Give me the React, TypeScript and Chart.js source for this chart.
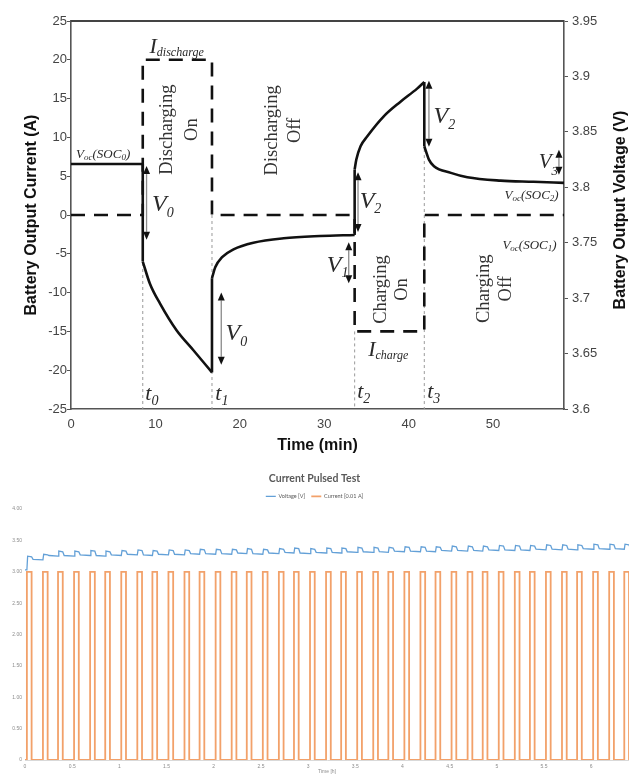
import React, { useEffect, useRef } from 'react';
import { Chart, registerables } from 'chart.js';

Chart.register(...registerables);

// ================= Top chart (schematic pulse test) =================
const currentTimeMin = [0, 8.5, 8.5, 16.7, 16.7, 33.6, 33.6, 41.85, 41.85, 58.4];
const currentAmps = [0, 0, 20, 20, 0, 0, -15, -15, 0, 0];

const voltageTimeMin = [0, 8.5, 8.5, 9.35, 10.55, 12.5, 14.5, 16.7, 16.7, 17.1, 17.9, 19.25, 21.6, 25.2, 29.5, 33.6, 33.6, 33.8, 34.3, 35.1, 37.05, 39.0, 41.0, 41.85, 41.85, 42.4, 43.0, 45.0, 46.95, 50.9, 54.8, 58.4];
const voltageVolts = [3.821, 3.821, 3.733, 3.713, 3.695, 3.671, 3.653, 3.633, 3.718, 3.728, 3.737, 3.744, 3.75, 3.754, 3.756, 3.757, 3.816, 3.825, 3.837, 3.846, 3.864, 3.877, 3.889, 3.895, 3.837, 3.825, 3.819, 3.813, 3.809, 3.806, 3.805, 3.804];

const timeRangeMin = [0, 58.4];
const currentRange = [-25, 25];
const voltageRange = [3.6, 3.95];

// ================= Bottom chart (Current Pulsed Test) =================
const pulseStartH = [0.02, 0.19, 0.35, 0.52, 0.69, 0.85, 1.02, 1.19, 1.35, 1.52, 1.69, 1.85, 2.02, 2.19, 2.35, 2.52, 2.69, 2.85, 3.02, 3.19, 3.35, 3.52, 3.69, 3.85, 4.02, 4.19, 4.35, 4.52, 4.69, 4.85, 5.02, 5.19, 5.35, 5.52, 5.69, 5.85, 6.02, 6.19, 6.35];
const pulseLengthH = 0.05;
const pulseCurrent = 3.0;
const voltBeforePulse = [3.03, 3.19, 3.25, 3.25, 3.26, 3.25, 3.26, 3.27, 3.26, 3.27, 3.27, 3.28, 3.28, 3.28, 3.29, 3.28, 3.29, 3.3, 3.29, 3.3, 3.3, 3.31, 3.31, 3.31, 3.32, 3.32, 3.32, 3.33, 3.33, 3.33, 3.34, 3.34, 3.34, 3.35, 3.35, 3.35, 3.36, 3.36, 3.36];
const voltDuringPulse = [3.25, 3.28, 3.33, 3.33, 3.34, 3.33, 3.34, 3.35, 3.34, 3.35, 3.35, 3.36, 3.36, 3.36, 3.37, 3.36, 3.37, 3.38, 3.37, 3.38, 3.38, 3.39, 3.39, 3.39, 3.4, 3.4, 3.4, 3.41, 3.41, 3.41, 3.42, 3.42, 3.42, 3.43, 3.43, 3.43, 3.44, 3.44, 3.44];
const pulsedTimeRangeH = [0, 6.4];
const pulsedValueRange = [0, 4];

const SANS = '"Liberation Sans", Arial, sans-serif';
const SERIF = '"Liberation Serif", "Times New Roman", serif';

type Part = [string, number, number];
// rich italic labels: anchor (time min, current A) = left/baseline
const richLabels: { t: number; v: number; parts: Part[] }[] = [
  { t: 9.3, v: 20.9, parts: [['I', 22, 0], ['discharge', 12, 3]] },
  { t: 0.6, v: 7.35, parts: [['V', 13, 0], ['oc', 9, 2], ['(SOC', 13, 0], ['0', 9, 2], [')', 13, 0]] },
  { t: 9.6, v: 0.5, parts: [['V', 24, 0], ['0', 14, 6]] },
  { t: 8.8, v: -23.8, parts: [['t', 22, 0], ['0', 14, 5]] },
  { t: 17.1, v: -23.8, parts: [['t', 22, 0], ['1', 14, 5]] },
  { t: 18.3, v: -16.1, parts: [['V', 24, 0], ['0', 14, 6]] },
  { t: 30.3, v: -7.35, parts: [['V', 24, 0], ['1', 14, 5]] },
  { t: 34.2, v: 0.9, parts: [['V', 24, 0], ['2', 14, 5]] },
  { t: 33.9, v: -23.6, parts: [['t', 22, 0], ['2', 14, 5]] },
  { t: 42.2, v: -23.6, parts: [['t', 22, 0], ['3', 14, 5]] },
  { t: 42.95, v: 11.85, parts: [['V', 24, 0], ['2', 14, 6]] },
  { t: 55.4, v: 6.05, parts: [['V', 21, 0], ['3', 13, 7]] },
  { t: 51.35, v: 2.06, parts: [['V', 13, 0], ['oc', 9, 2], ['(SOC', 13, 0], ['2', 9, 2], [')', 13, 0]] },
  { t: 51.1, v: -4.4, parts: [['V', 13, 0], ['oc', 9, 2], ['(SOC', 13, 0], ['1', 9, 2], [')', 13, 0]] },
  { t: 35.2, v: -18.2, parts: [['I', 22, 0], ['charge', 12, 3]] },
];

const rotatedLabels: { t: number; v: number; text: string }[] = [
  { t: 11.4, v: 11.0, text: 'Discharging' },
  { t: 14.4, v: 11.0, text: 'On' },
  { t: 23.8, v: 10.9, text: 'Discharging' },
  { t: 26.6, v: 10.9, text: 'Off' },
  { t: 36.7, v: -9.6, text: 'Charging' },
  { t: 39.2, v: -9.6, text: 'On' },
  { t: 48.9, v: -9.5, text: 'Charging' },
  { t: 51.5, v: -9.5, text: 'Off' },
];

const arrows: { t: number; top: number; bottom: number }[] = [
  { t: 8.95, top: 6.3, bottom: -3.2 },
  { t: 17.8, top: -10, bottom: -19.3 },
  { t: 32.9, top: -3.5, bottom: -8.8 },
  { t: 34.0, top: 5.5, bottom: -2.2 },
  { t: 42.4, top: 17.3, bottom: 8.8 },
  { t: 57.8, top: 8.4, bottom: 5.2 },
];

const markerLines: { t: number; from: number }[] = [
  { t: 8.5, from: 0 },
  { t: 16.7, from: 0 },
  { t: 33.6, from: -15 },
  { t: 41.85, from: 8.5 },
];

const schematicPlugin = {
  id: 'schematic',
  beforeDatasetsDraw(chart: any) {
    const { ctx, chartArea, scales } = chart;
    const x = scales.x, y = scales.y;
    ctx.save();
    ctx.strokeStyle = '#9a9a9a';
    ctx.lineWidth = 1;
    ctx.setLineDash([3, 3]);
    for (const m of markerLines) {
      const px = x.getPixelForValue(m.t);
      ctx.beginPath();
      ctx.moveTo(px, y.getPixelForValue(m.from));
      ctx.lineTo(px, chartArea.bottom);
      ctx.stroke();
    }
    ctx.restore();
  },
  afterDatasetsDraw(chart: any) {
    const { ctx, chartArea, scales } = chart;
    const x = scales.x, y = scales.y;
    ctx.save();
    // top frame line
    ctx.strokeStyle = '#444';
    ctx.lineWidth = 1.8;
    ctx.beginPath();
    ctx.moveTo(chartArea.left, chartArea.top);
    ctx.lineTo(chartArea.right, chartArea.top);
    ctx.stroke();

    // arrows
    for (const a of arrows) {
      const px = x.getPixelForValue(a.t);
      const yt = y.getPixelForValue(a.top);
      const yb = y.getPixelForValue(a.bottom);
      const hw = 3.5, hh = 8;
      ctx.strokeStyle = '#8a8a8a';
      ctx.lineWidth = 1.3;
      ctx.beginPath();
      ctx.moveTo(px, yt + hh);
      ctx.lineTo(px, yb - hh);
      ctx.stroke();
      ctx.fillStyle = '#111';
      ctx.beginPath();
      ctx.moveTo(px, yt);
      ctx.lineTo(px - hw, yt + hh);
      ctx.lineTo(px + hw, yt + hh);
      ctx.closePath();
      ctx.fill();
      ctx.beginPath();
      ctx.moveTo(px, yb);
      ctx.lineTo(px - hw, yb - hh);
      ctx.lineTo(px + hw, yb - hh);
      ctx.closePath();
      ctx.fill();
    }

    // italic labels with subscripts
    ctx.fillStyle = '#2a2a2a';
    ctx.textAlign = 'left';
    ctx.textBaseline = 'alphabetic';
    for (const l of richLabels) {
      let cx = x.getPixelForValue(l.t);
      const by = y.getPixelForValue(l.v);
      for (const [text, size, dy] of l.parts) {
        ctx.font = `italic ${size}px ${SERIF}`;
        ctx.fillText(text, cx, by + dy);
        cx += ctx.measureText(text).width;
      }
    }

    // rotated phase labels
    ctx.fillStyle = '#333';
    ctx.font = `18.5px ${SERIF}`;
    ctx.textAlign = 'center';
    ctx.textBaseline = 'middle';
    for (const r of rotatedLabels) {
      ctx.save();
      ctx.translate(x.getPixelForValue(r.t), y.getPixelForValue(r.v));
      ctx.rotate(-Math.PI / 2);
      ctx.fillText(r.text, 0, 0);
      ctx.restore();
    }

    // right axis title (reads bottom-to-top)
    ctx.save();
    ctx.fillStyle = '#111';
    ctx.font = `bold 16px ${SANS}`;
    ctx.translate(chart.width - 8, (chartArea.top + chartArea.bottom) / 2 - 5);
    ctx.rotate(-Math.PI / 2);
    ctx.fillText('Battery Output Voltage (V)', 0, 0);
    ctx.restore();
    ctx.restore();
  },
};

function TopChart() {
  const ref = useRef<HTMLCanvasElement>(null);
  useEffect(() => {
    const canvas = ref.current;
    if (!canvas) return;

    const runs: { x: number; y: number }[][] = [];
    let run = [{ x: voltageTimeMin[0], y: voltageVolts[0] }];
    for (let i = 1; i < voltageTimeMin.length; i++) {
      const p = { x: voltageTimeMin[i], y: voltageVolts[i] };
      if (voltageTimeMin[i] === voltageTimeMin[i - 1]) {
        runs.push(run);
        runs.push([run[run.length - 1], p]);
        run = [p];
      } else {
        run.push(p);
      }
    }
    runs.push(run);

    const voltageSets = runs.map((r) => ({
      label: 'Battery Output Voltage',
      data: r,
      yAxisID: 'y1',
      borderColor: '#111',
      borderWidth: 2.6,
      pointRadius: 0,
      cubicInterpolationMode: 'monotone' as const,
      fill: false,
    }));

    const chart = new Chart(canvas, {
      type: 'line',
      data: {
        datasets: [
          {
            label: 'Battery Output Current',
            data: currentTimeMin.map((t, i) => ({ x: t, y: currentAmps[i] })),
            yAxisID: 'y',
            borderColor: '#111',
            borderWidth: 2.6,
            borderDash: [14, 9],
            pointRadius: 0,
            tension: 0,
            fill: false,
          },
          ...voltageSets,
        ],
      },
      options: {
        responsive: false,
        animation: false,
        layout: { padding: { top: 21, left: 0, right: 0, bottom: 0 } },
        plugins: { legend: { display: false }, tooltip: { enabled: false }, title: { display: false } },
        scales: {
          x: {
            type: 'linear',
            position: 'bottom',
            min: timeRangeMin[0],
            max: timeRangeMin[1],
            afterFit: (s: any) => { s.height = 46; },
            ticks: { stepSize: 10, includeBounds: false, padding: 8, color: '#444', font: { family: SANS, size: 13 }, maxRotation: 0 },
            grid: { drawOnChartArea: false, drawTicks: false },
            border: { display: true, color: '#555', width: 1.6 },
            title: { display: true, text: 'Time (min)', color: '#111', font: { family: SANS, size: 16, weight: 'bold' }, padding: { top: 0, bottom: 0 } },
          },
          y: {
            type: 'linear',
            position: 'left',
            min: currentRange[0],
            max: currentRange[1],
            afterFit: (s: any) => { s.width = 71; },
            ticks: { stepSize: 5, includeBounds: false, padding: 0, color: '#444', font: { family: SANS, size: 13 } },
            grid: { drawOnChartArea: false, drawTicks: true, tickLength: 4, color: '#555' },
            border: { display: true, color: '#555', width: 1.6 },
            title: { display: true, text: 'Battery Output Current (A)', color: '#111', font: { family: SANS, size: 16, weight: 'bold' }, padding: { top: 22, bottom: 0 } },
          },
          y1: {
            type: 'linear',
            position: 'right',
            min: voltageRange[0],
            max: voltageRange[1],
            afterFit: (s: any) => { s.width = 65; },
            ticks: {
              stepSize: 0.05,
              includeBounds: false,
              padding: 4,
              color: '#444',
              font: { family: SANS, size: 13 },
              callback: (v: any) => Number(v).toFixed(2).replace(/0$/, ''),
            },
            grid: { drawOnChartArea: false, drawTicks: true, tickLength: 4, color: '#555' },
            border: { display: true, color: '#555', width: 1.6 },
          },
        },
      } as any,
      plugins: [schematicPlugin],
    });
    return () => chart.destroy();
  }, []);
  return <canvas ref={ref} width={629} height={455} style={{ position: 'absolute', left: 0, top: 0, display: 'block' }} />;
}

function BottomChart() {
  const ref = useRef<HTMLCanvasElement>(null);
  useEffect(() => {
    const canvas = ref.current;
    if (!canvas) return;
    const last = voltBeforePulse.length - 1;

    const currentPts: { x: number; y: number }[] = [{ x: pulsedTimeRangeH[0], y: 0 }];
    pulseStartH.forEach((s) => {
      currentPts.push({ x: s, y: 0 }, { x: s, y: pulseCurrent }, { x: s + pulseLengthH, y: pulseCurrent }, { x: s + pulseLengthH, y: 0 });
    });
    currentPts.push({ x: pulsedTimeRangeH[1], y: 0 });

    const voltPts: { x: number; y: number }[] = [{ x: pulsedTimeRangeH[0], y: voltBeforePulse[0] }];
    pulseStartH.forEach((s, k) => {
      const next = voltBeforePulse[Math.min(k + 1, last)];
      voltPts.push(
        { x: s, y: voltBeforePulse[k] },
        { x: s + 0.008, y: voltDuringPulse[k] },
        { x: s + pulseLengthH, y: voltDuringPulse[k] - 0.01 },
        { x: s + pulseLengthH + 0.015, y: next + 0.01 },
      );
    });

    const chart = new Chart(canvas, {
      type: 'line',
      data: {
        datasets: [
          {
            label: 'Voltage [V]',
            data: voltPts,
            borderColor: 'rgba(91,155,213,0.95)',
            backgroundColor: 'rgba(91,155,213,0.95)',
            borderWidth: 1.3,
            pointRadius: 0,
            tension: 0,
          },
          {
            label: 'Current [0.01 A]',
            data: currentPts,
            borderColor: 'rgba(237,125,49,0.72)',
            backgroundColor: 'rgba(237,125,49,0.72)',
            borderWidth: 1.8,
            pointRadius: 0,
            tension: 0,
          },
        ],
      },
      options: {
        responsive: false,
        animation: false,
        layout: { padding: { top: 0, left: 0, right: 0, bottom: 0 } },
        plugins: {
          tooltip: { enabled: false },
          title: {
            display: true,
            text: 'Current Pulsed Test',
            color: '#595959',
            font: { family: 'Lato, "Open Sans", sans-serif', size: 10.5, weight: 'bold' },
            padding: { top: 12, bottom: 3 },
          },
          legend: {
            display: true,
            labels: {
              usePointStyle: true,
              pointStyle: 'line',
              pointStyleWidth: 10,
              padding: 6,
              color: '#595959',
              font: { family: 'Lato, sans-serif', size: 5.5 },
            },
          },
        },
        scales: {
          x: {
            type: 'linear',
            min: pulsedTimeRangeH[0],
            max: pulsedTimeRangeH[1],
            afterFit: (s: any) => { s.height = 15; },
            ticks: {
              stepSize: 0.5,
              includeBounds: false,
              padding: 4,
              color: '#8c8c8c',
              font: { family: SANS, size: 5 },
              maxRotation: 0,
              callback: (v: any) => String(Number(Number(v).toFixed(2))),
            },
            grid: { display: false, drawTicks: false },
            border: { display: true, color: '#d9d9d9', width: 1 },
            title: { display: true, text: 'Time [h]', color: '#8c8c8c', font: { family: SANS, size: 5 }, padding: { top: 0, bottom: 0 } },
          },
          y: {
            type: 'linear',
            min: pulsedValueRange[0],
            max: pulsedValueRange[1],
            afterFit: (s: any) => { s.width = 25; },
            ticks: {
              stepSize: 0.5,
              includeBounds: false,
              padding: 3,
              color: '#8c8c8c',
              font: { family: SANS, size: 5 },
              callback: (v: any) => (Number(v) === 0 ? '0' : Number(v).toFixed(2)),
            },
            grid: { display: false, drawTicks: false },
            border: { display: false },
          },
        },
      } as any,
    });
    return () => chart.destroy();
  }, []);
  return <canvas ref={ref} width={629} height={315} style={{ position: 'absolute', left: 0, top: 460, display: 'block' }} />;
}

export default function App() {
  return (
    <div style={{ position: 'fixed', left: 0, top: 0, width: 629, height: 775, overflow: 'hidden', background: '#fff' }}>
      <TopChart />
      <BottomChart />
    </div>
  );
}
